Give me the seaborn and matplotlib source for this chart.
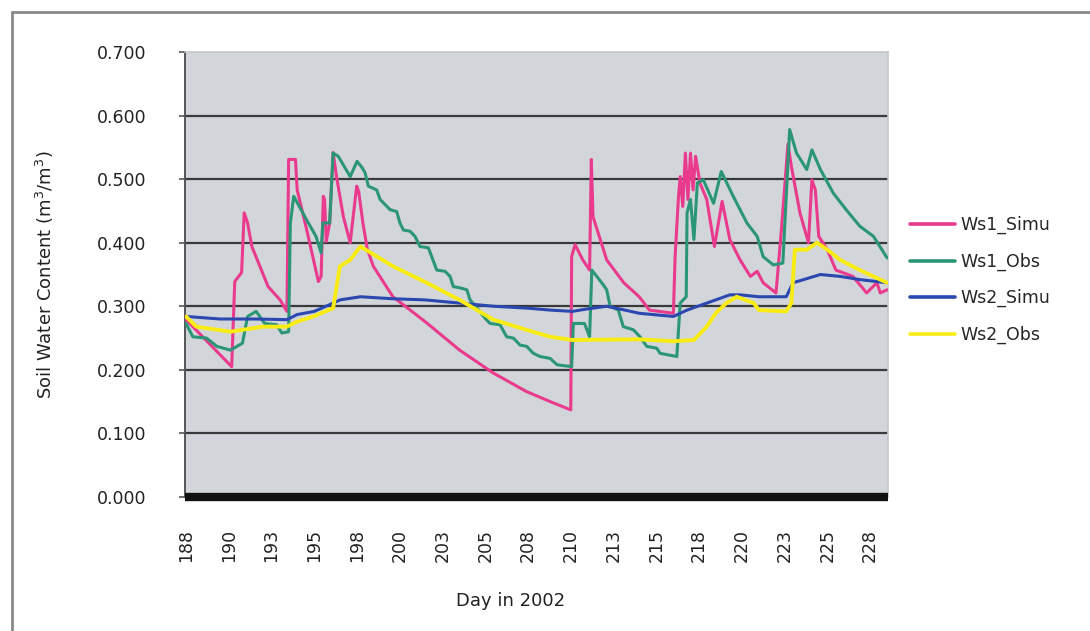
import numpy as np
import pandas as pd
import matplotlib
matplotlib.use("Agg")
import matplotlib.pyplot as plt
from matplotlib.lines import Line2D
import seaborn as sns

# ---- data: day of year 2002 and soil water content (m3/m3) ----
ws1_simu_day = [188.0, 190.67, 190.85, 191.25, 191.4, 191.6, 191.85, 192.8, 193.5, 193.9,
                194.0, 194.4, 194.5, 195.06, 195.74, 195.9, 196.03, 196.1, 196.2, 196.4,
                196.6, 196.8, 197.2, 197.6, 197.98, 198.1, 198.35, 198.6, 198.95, 200.1,
                202.07, 204.0, 205.97, 207.9, 209.3, 210.5, 210.55, 210.75, 211.2, 211.6,
                211.7, 211.8, 212.6, 213.6, 214.5, 215.1, 216.5, 216.6, 216.8, 216.9,
                217.05, 217.2, 217.35, 217.5, 217.65, 217.8, 218.05, 218.45, 218.9, 219.35,
                219.8, 220.4, 221.0, 221.4, 221.75, 222.5, 222.8, 223.2, 223.4, 223.9,
                224.4, 224.6, 224.8, 225.0, 225.5, 226.0, 227.0, 227.8, 228.4, 228.6, 229.0]
ws1_simu_val = [0.279, 0.205, 0.339, 0.353, 0.447, 0.431, 0.394, 0.331, 0.310, 0.292,
                0.531, 0.531, 0.483, 0.420, 0.339, 0.347, 0.473, 0.468, 0.402, 0.431,
                0.542, 0.504, 0.441, 0.400, 0.489, 0.480, 0.430, 0.390, 0.363, 0.315,
                0.274, 0.231, 0.195, 0.166, 0.150, 0.137, 0.378, 0.397, 0.373, 0.357,
                0.531, 0.441, 0.373, 0.337, 0.315, 0.294, 0.289, 0.378, 0.473, 0.504,
                0.457, 0.541, 0.468, 0.541, 0.483, 0.536, 0.494, 0.468, 0.394, 0.465,
                0.405, 0.373, 0.347, 0.355, 0.337, 0.321, 0.415, 0.555, 0.520, 0.447,
                0.400, 0.499, 0.483, 0.410, 0.389, 0.357, 0.347, 0.321, 0.337, 0.321, 0.326]

ws1_obs_day = [188.0, 188.4, 189.2, 189.8, 190.6, 191.3, 191.6, 192.1, 192.6, 193.3,
               193.6, 194.0, 194.1, 194.3, 195.05, 195.6, 195.9, 196.0, 196.4, 196.6,
               196.9, 197.6, 198.0, 198.3, 198.47, 198.66, 199.15, 199.35, 199.93, 200.32,
               200.51, 200.71, 201.1, 201.39, 201.68, 202.17, 202.37, 202.66, 203.15, 203.44,
               203.63, 204.02, 204.42, 204.61, 205.0, 205.49, 205.78, 206.36, 206.75, 207.14,
               207.53, 207.92, 208.31, 208.7, 209.29, 209.7, 210.55, 210.65, 211.3, 211.6,
               211.73, 212.31, 212.6, 212.8, 213.28, 213.57, 214.16, 214.55, 214.94, 215.53,
               215.72, 216.7, 216.9, 217.25, 217.3, 217.5, 217.7, 217.9, 218.25, 218.85,
               219.3, 220.0, 220.8, 221.4, 221.75, 222.35, 222.9, 223.3, 223.7, 224.3,
               224.6, 225.1, 225.85, 226.6, 227.4, 228.2, 229.0]
ws1_obs_val = [0.273, 0.252, 0.250, 0.237, 0.231, 0.242, 0.284, 0.292, 0.273, 0.271,
               0.258, 0.260, 0.431, 0.473, 0.436, 0.410, 0.384, 0.431, 0.431, 0.541,
               0.536, 0.504, 0.528, 0.518, 0.510, 0.489, 0.483, 0.468, 0.452, 0.449,
               0.431, 0.420, 0.418, 0.410, 0.394, 0.392, 0.378, 0.357, 0.355, 0.347,
               0.331, 0.329, 0.326, 0.310, 0.298, 0.281, 0.273, 0.271, 0.252, 0.250,
               0.239, 0.237, 0.226, 0.221, 0.218, 0.208, 0.205, 0.273, 0.273, 0.252,
               0.357, 0.337, 0.326, 0.300, 0.294, 0.268, 0.263, 0.252, 0.237, 0.234,
               0.226, 0.221, 0.305, 0.315, 0.447, 0.468, 0.405, 0.494, 0.499, 0.462,
               0.512, 0.473, 0.431, 0.410, 0.378, 0.365, 0.368, 0.578, 0.541, 0.515,
               0.546, 0.515, 0.478, 0.452, 0.426, 0.410, 0.376]

ws2_simu_day = [188.0, 190.0, 192.0, 193.9, 194.5, 195.5, 196.6, 197.0, 198.2, 200.0,
                202.0, 204.0, 206.0, 208.0, 209.3, 210.6, 211.5, 212.6, 213.5, 214.5,
                216.5, 217.3, 218.45, 219.8, 220.4, 221.5, 223.1, 223.5, 225.1, 226.25,
                227.4, 229.0]
ws2_simu_val = [0.284, 0.280, 0.280, 0.279, 0.287, 0.292, 0.305, 0.310, 0.315, 0.312,
                0.310, 0.305, 0.300, 0.297, 0.294, 0.292, 0.296, 0.300, 0.295, 0.289,
                0.284, 0.294, 0.305, 0.318, 0.318, 0.315, 0.315, 0.337, 0.350, 0.347,
                0.342, 0.337]

ws2_obs_day = [188.0, 188.6, 190.6, 192.5, 193.9, 194.5, 195.45, 196.6, 197.0, 197.6,
               198.2, 200.1, 202.07, 204.0, 205.97, 207.9, 209.3, 210.6, 214.5, 216.5,
               217.7, 218.45, 219.0, 219.6, 220.2, 221.2, 221.5, 223.1, 223.4, 223.6,
               224.3, 224.9, 225.5, 226.25, 227.4, 229.0]
ws2_obs_val = [0.284, 0.268, 0.260, 0.268, 0.268, 0.276, 0.284, 0.297, 0.363, 0.373,
               0.394, 0.363, 0.337, 0.310, 0.279, 0.263, 0.252, 0.247, 0.248, 0.245,
               0.247, 0.268, 0.290, 0.305, 0.315, 0.305, 0.294, 0.292, 0.305, 0.389,
               0.389, 0.400, 0.389, 0.373, 0.357, 0.337]

series_names = ["Ws1_Simu", "Ws1_Obs", "Ws2_Simu", "Ws2_Obs"]
series_colors = ["#ea3a8e", "#2a9676", "#2b48b0", "#f8ec14"]

x_tick_pos = [188.0 + 2.5 * i for i in range(17)]
x_tick_labels = ["188", "190", "193", "195", "198", "200", "203", "205", "208",
                 "210", "213", "215", "218", "220", "223", "225", "228"]
y_ticks = [0.0, 0.1, 0.2, 0.3, 0.4, 0.5, 0.6, 0.7]
y_tick_labels = ["0.000", "0.100", "0.200", "0.300", "0.400", "0.500", "0.600", "0.700"]

# ---- long-form table for seaborn ----
frames = []
for name, d, v in zip(series_names,
                      [ws1_simu_day, ws1_obs_day, ws2_simu_day, ws2_obs_day],
                      [ws1_simu_val, ws1_obs_val, ws2_simu_val, ws2_obs_val]):
    frames.append(pd.DataFrame({"day": d, "swc": v, "series": name}))
df = pd.concat(frames, ignore_index=True)

sns.set_style("white")
plt.rcParams["font.family"] = ["DejaVu Sans"]

W, H = 1090, 631
fig = plt.figure(figsize=(W / 100, H / 100), dpi=100)
fig.patch.set_facecolor("white")

ax = fig.add_axes([185 / W, 134 / H, 703 / W, 445 / H])
ax.set_facecolor("#d2d6da")

# horizontal grid
for yv in y_ticks[1:-1]:
    ax.axhline(yv, color="#3a3a3a", lw=1.6, zorder=1)

palette = dict(zip(series_names, series_colors))
for name in series_names:
    sub = df[df["series"] == name]
    sns.lineplot(data=sub, x="day", y="swc", color=palette[name],
                 linewidth=2.8 if name == "Ws2_Obs" else 2.2,
                 estimator=None, sort=False, ax=ax, zorder=3, label=name)

# heavy base line at zero
ax.axhline(0.0, color="#111111", lw=6, zorder=4, clip_on=False, solid_capstyle="butt")

ax.set_xlim(187.94, 229.05)
ax.set_ylim(0.0, 0.7)
ax.set_xticks(x_tick_pos)
ax.set_xticklabels(x_tick_labels, rotation=90, fontsize=12.5, color="#222222")
ax.set_yticks(y_ticks)
ax.set_yticklabels(y_tick_labels, fontsize=12.5, color="#222222")
ax.tick_params(axis="x", length=0, pad=23)
ax.tick_params(axis="y", length=4, width=1.2, color="#555555", pad=24, direction="out", left=True)
ax.set_xlabel("")
ax.set_ylabel("")

for side in ["top", "right"]:
    ax.spines[side].set_color("#c4c8cc")
    ax.spines[side].set_linewidth(1.2)
ax.spines["left"].set_color("#555555")
ax.spines["left"].set_linewidth(1.4)
ax.spines["bottom"].set_visible(False)

fig.text(45 / W, 1 - 275 / H, r"Soil Water Content (m$^3$/m$^3$)", rotation=90,
         ha="center", va="center", fontsize=13, color="#222222")
fig.text(511 / W, 1 - 601 / H, "Day in 2002", ha="center", va="center",
         fontsize=13, color="#222222")

if ax.get_legend():
    ax.get_legend().remove()
handles = [Line2D([0], [0], color=c, lw=2.6) for c in series_colors]
fig.legend(handles, series_names, loc="center left",
           bbox_to_anchor=(910 / W, 1 - 280 / H), frameon=False,
           fontsize=12.5, handlelength=2.6, handletextpad=0.3,
           labelspacing=1.05, borderpad=0, borderaxespad=0)

# outer chart frame
fig.add_artist(Line2D([12 / W, 1.0], [1 - 12 / H, 1 - 12 / H], color="#8a8a8a", lw=2.0))
fig.add_artist(Line2D([12 / W, 12 / W], [0.0, 1 - 12 / H], color="#8a8a8a", lw=2.0))

fig.savefig("out.png", dpi=100, facecolor="white")
